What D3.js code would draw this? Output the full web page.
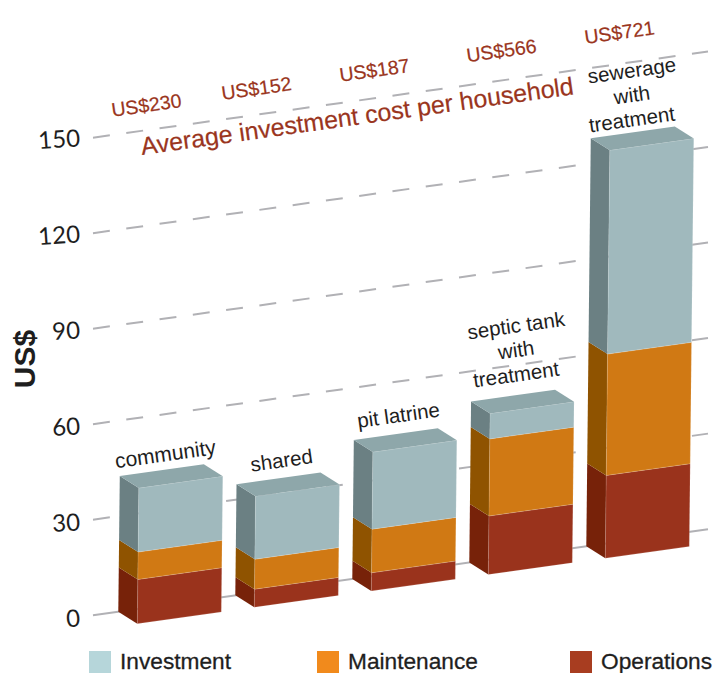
<!DOCTYPE html>
<html>
<head>
<meta charset="utf-8">
<script src="https://cdn.jsdelivr.net/npm/d3@7"></script>
<style>
  html, body { margin: 0; padding: 0; background: #fff; }
  svg { display: block; }
  text { font-family: "Liberation Sans", Arial, sans-serif; }
</style>
</head>
<body>
<div id="chart"></div>
<script>
// Household sanitation cost by type - pseudo 3D stacked columns
const categories = ["community", "shared", "pit latrine", "septic tank", "sewerage"];
const category_lines = [
    ["community"],
    ["shared"],
    ["pit latrine"],
    ["septic tank", "with", "treatment"],
    ["sewerage", "with", "treatment"]
];
const investment_cost = ["US$230", "US$152", "US$187", "US$566", "US$721"];

const series_names = ["Operations", "Maintenance", "Investment"];
const operations = [13.9, 5.7, 5.7, 18.4, 26.0];
const maintenance = [8.6, 9.4, 13.7, 24.2, 38.1];
const investment = [20.1, 19.8, 24.2, 8.0, 64.0];

const y_ticks = [0, 30, 60, 90, 120, 150];
const legend_names = ["Investment", "Maintenance", "Operations"];

const w = 720;
const h = 673;
const slope_deg = -8;

const svg = d3.select("#chart").append("svg")
    .attr("width", w)
    .attr("height", h);

const rows = categories.map((c, i) => ({
    category: c,
    Operations: operations[i],
    Maintenance: maintenance[i],
    Investment: investment[i]
}));
const stacked = d3.stack().keys(series_names)(rows);

const x_band = d3.scaleBand()
    .domain(categories)
    .range([118.3, 670.3])
    .paddingInner(0.282)
    .paddingOuter(0);

// the floor of the chart runs uphill to the right
const floor_y = d3.scaleLinear().domain([118.3, 709]).range([611.7, 529]);
const value_px = d3.scaleLinear().domain([0, 150]).range([0, 477.6]);

const depth = { x: 19, y: 12 };
const lean = 0.011;

function project(category, along, value, d) {
    const x0 = x_band(category) + along;
    const v = value_px(value);
    return [x0 + lean * v + d * depth.x, floor_y(x0) - v + d * depth.y];
}

const face = d3.line();

const colors = {
    Investment: { front: "#a0b9bd", side: "#6b8083", top: "#8ea7aa" },
    Maintenance: { front: "#d07914", side: "#8f5300" },
    Operations: { front: "#9a331c", side: "#772209" }
};
const legend_colors = { Investment: "#b6d6da", Maintenance: "#f18a1c", Operations: "#a83d20" };

// gridlines
const grid_layer = svg.append("g");
const grid_x = [93, 708];

grid_layer.selectAll("path")
    .data(y_ticks)
    .join("path")
    .attr("d", d => face(grid_x.map(x => [x, floor_y(x) - value_px(d)])))
    .attr("fill", "none")
    .attr("stroke", "#b1b1b5")
    .attr("stroke-width", 2)
    .attr("stroke-dasharray", d => d === 0 ? null : "17,16.6");

// y axis
const y_axis_scale = d3.scaleLinear().domain([0, 150]).range([618, 138]);
const y_axis = svg.append("g")
    .attr("transform", "translate(80,0)")
    .call(d3.axisLeft(y_axis_scale).tickValues(y_ticks).tickSize(0).tickPadding(0));
y_axis.select(".domain").remove();
y_axis.selectAll("text")
    .style("font-family", "Lato, sans-serif")
    .style("font-size", "24px")
    .attr("fill", "#1e1e1e")
    .attr("transform", "rotate(-4)");

svg.append("text")
    .attr("transform", "translate(35,359) rotate(-90)")
    .attr("text-anchor", "middle")
    .style("font-size", "30px")
    .style("font-weight", "bold")
    .attr("fill", "#1e1e1e")
    .text("US$");

// columns
const bw = x_band.bandwidth();
const column_layer = svg.append("g");

stacked.forEach(layer => {
    const c = colors[layer.key];
    const g = column_layer.append("g");

    g.selectAll(".side")
        .data(layer)
        .join("path")
        .attr("class", "side")
        .attr("fill", c.side)
        .attr("d", d => {
            const cat = d.data.category;
            return face([
                project(cat, 0, d[0], 0),
                project(cat, 0, d[0], 1),
                project(cat, 0, d[1], 1),
                project(cat, 0, d[1], 0)
            ]) + "Z";
        });

    g.selectAll(".front")
        .data(layer)
        .join("path")
        .attr("class", "front")
        .attr("fill", c.front)
        .attr("stroke", "#fff")
        .attr("stroke-opacity", 0.25)
        .attr("stroke-width", 0.6)
        .attr("d", d => {
            const cat = d.data.category;
            return face([
                project(cat, 0, d[0], 1),
                project(cat, bw, d[0], 1),
                project(cat, bw, d[1], 1),
                project(cat, 0, d[1], 1)
            ]) + "Z";
        });

    if (c.top) {
        g.selectAll(".top")
            .data(layer)
            .join("path")
            .attr("class", "top")
            .attr("fill", c.top)
            .attr("d", d => {
                const cat = d.data.category;
                return face([
                    project(cat, 0, d[1], 0),
                    project(cat, bw, d[1], 0),
                    project(cat, bw, d[1], 1),
                    project(cat, 0, d[1], 1)
                ]) + "Z";
            });
    }
});

// category labels sit on top of each column
const totals = rows.map(d => d.Operations + d.Maintenance + d.Investment);
const label_layer = svg.append("g");
const label_dx = [4.5, 4, 3.5, 4, 0];
const label_dy = [-9, -11, -12, -14, -6];
const label_size = [21, 20.5, 20.5, 20.5, 20.5];

categories.forEach((c, i) => {
    const [px, py] = project(c, bw / 2, totals[i], 0);
    const lines = category_lines[i].slice().reverse();
    label_layer.selectAll(null)
        .data(lines)
        .join("text")
        .attr("transform", (d, j) => `translate(${px + label_dx[i]},${py + label_dy[i] - j * 24.5}) rotate(${slope_deg})`)
        .attr("text-anchor", "middle")
        .style("font-size", label_size[i] + "px")
        .attr("fill", "#1e1e1e")
        .text(d => d);
});

// investment cost row
const cost_color = "#9a3520";
const cost_nudge = [0, -7, -6, 4, 5];

svg.append("g").selectAll("text")
    .data(investment_cost)
    .join("text")
    .attr("transform", (d, i) => {
        const x = x_band(categories[i]) + 29 + cost_nudge[i];
        return `translate(${x},${112 - (x - 147) * 0.154}) rotate(${slope_deg})`;
    })
    .attr("text-anchor", "middle")
    .style("font-size", "19.5px")
    .attr("fill", cost_color)
    .attr("stroke", cost_color)
    .attr("stroke-width", 0.2)
    .text(d => d);

svg.append("text")
    .attr("transform", `translate(142,155) rotate(${slope_deg})`)
    .style("font-size", "24.9px")
    .attr("fill", cost_color)
    .attr("stroke", cost_color)
    .attr("stroke-width", 0.2)
    .text("Average investment cost per household");

// legend
const legend_x = d3.scaleOrdinal().domain(legend_names).range([89, 317, 570]);

const legend = svg.append("g").selectAll("g")
    .data(legend_names)
    .join("g")
    .attr("transform", d => `translate(${legend_x(d)},0)`);

legend.append("rect")
    .attr("y", 651)
    .attr("width", 22)
    .attr("height", 22)
    .attr("fill", d => legend_colors[d]);

legend.append("text")
    .attr("x", 31)
    .attr("y", 669)
    .style("font-size", "22.7px")
    .attr("fill", "#1e1e1e")
    .attr("stroke", "#1e1e1e")
    .attr("stroke-width", 0.3)
    .text(d => d);
</script>
</body>
</html>
